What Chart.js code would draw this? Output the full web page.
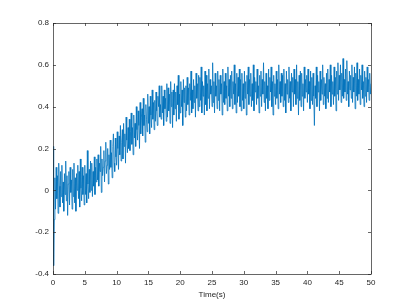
<!DOCTYPE html>
<html>
<head>
<meta charset="utf-8">
<script src="https://cdn.jsdelivr.net/npm/chart.js@4"></script>
<style>
  html, body { margin: 0; padding: 0; background: #fff; }
  #wrap { width: 410px; height: 308px; }
</style>
</head>
<body>
<div id="wrap"><canvas id="myChart" width="410" height="308"></canvas></div>
<script>
// signal sampled every 0.1 s, one row per second
const dt = 0.1;
const signal = [
  0.21, -0.36, -0.14, 0.06, -0.09, 0.11, -0.04, 0.07, -0.11, 0.13,
  0.02, -0.08, 0.09, -0.03, 0.12, -0.06, 0.04, -0.1, 0.08, -0.02,
  0.14, -0.05, 0.07, -0.12, 0.03, 0.09, -0.07, 0.11, -0.01, 0.05,
  -0.09, 0.1, -0.03, 0.13, -0.06, 0.06, -0.1, 0.08, 0.0, 0.12,
  -0.04, 0.09, -0.08, 0.15, 0.01, -0.05, 0.11, -0.02, 0.07, -0.07,
  0.12, -0.02, 0.08, -0.06, 0.19, 0.03, -0.04, 0.1, -0.01, 0.14,
  0.0, 0.13, -0.03, 0.09, 0.02, 0.16, -0.02, 0.11, 0.04, 0.15,
  0.05, 0.17, 0.02, 0.13, 0.09, 0.21, -0.01, 0.15, 0.07, 0.11,
  0.19, 0.04, 0.14, 0.23, 0.08, 0.12, 0.2, 0.03, 0.17, 0.1,
  0.24, 0.11, 0.18, 0.06, 0.21, 0.27, 0.13, 0.09, 0.25, 0.16,
  0.12, 0.28, 0.2, 0.1, 0.26, 0.17, 0.31, 0.14, 0.23, 0.29,
  0.15, 0.32, 0.21, 0.27, 0.13, 0.35, 0.24, 0.18, 0.3, 0.2,
  0.34, 0.19, 0.28, 0.37, 0.22, 0.3, 0.17, 0.36, 0.25, 0.32,
  0.21, 0.4, 0.29, 0.24, 0.38, 0.31, 0.2, 0.42, 0.27, 0.35,
  0.39, 0.26, 0.44, 0.31, 0.36, 0.23, 0.41, 0.34, 0.28, 0.46,
  0.32, 0.4, 0.27, 0.45, 0.36, 0.3, 0.48, 0.34, 0.42, 0.29,
  0.43, 0.33, 0.47, 0.38, 0.31, 0.45, 0.4, 0.5, 0.35, 0.41,
  0.34, 0.5, 0.37, 0.45, 0.31, 0.48, 0.39, 0.44, 0.33, 0.51,
  0.35, 0.49, 0.38, 0.46, 0.32, 0.52, 0.4, 0.47, 0.3, 0.48,
  0.36, 0.51, 0.39, 0.47, 0.33, 0.5, 0.41, 0.55, 0.34, 0.46,
  0.37, 0.52, 0.4, 0.48, 0.31, 0.53, 0.42, 0.49, 0.35, 0.5,
  0.38, 0.54, 0.41, 0.49, 0.36, 0.51, 0.43, 0.57, 0.37, 0.48,
  0.39, 0.53, 0.42, 0.5, 0.35, 0.56, 0.44, 0.51, 0.38, 0.55,
  0.4, 0.54, 0.43, 0.59, 0.37, 0.52, 0.45, 0.5, 0.36, 0.57,
  0.41, 0.55, 0.38, 0.51, 0.44, 0.58, 0.39, 0.53, 0.46, 0.5,
  0.4, 0.61, 0.42, 0.52, 0.37, 0.56, 0.45, 0.5, 0.39, 0.57,
  0.43, 0.53, 0.38, 0.55, 0.46, 0.51, 0.36, 0.58, 0.42, 0.52,
  0.41, 0.56, 0.44, 0.5, 0.38, 0.59, 0.45, 0.53, 0.4, 0.55,
  0.44, 0.57, 0.39, 0.52, 0.46, 0.6, 0.41, 0.51, 0.37, 0.56,
  0.42, 0.54, 0.45, 0.58, 0.4, 0.53, 0.38, 0.56, 0.43, 0.51,
  0.39, 0.57, 0.44, 0.52, 0.36, 0.55, 0.46, 0.59, 0.41, 0.53,
  0.45, 0.56, 0.4, 0.51, 0.43, 0.6, 0.38, 0.54, 0.47, 0.52,
  0.41, 0.58, 0.44, 0.5, 0.37, 0.55, 0.45, 0.57, 0.4, 0.53,
  0.46, 0.61, 0.42, 0.52, 0.38, 0.56, 0.44, 0.5, 0.39, 0.58,
  0.43, 0.54, 0.47, 0.59, 0.4, 0.52, 0.36, 0.55, 0.45, 0.51,
  0.41, 0.57, 0.44, 0.53, 0.39, 0.6, 0.46, 0.52, 0.42, 0.56,
  0.45, 0.55, 0.4, 0.58, 0.43, 0.51, 0.37, 0.57, 0.46, 0.53,
  0.42, 0.59, 0.44, 0.52, 0.38, 0.56, 0.47, 0.54, 0.4, 0.58,
  0.46, 0.53, 0.41, 0.6, 0.44, 0.52, 0.36, 0.55, 0.43, 0.57,
  0.4, 0.56, 0.45, 0.51, 0.38, 0.59, 0.44, 0.53, 0.47, 0.55,
  0.42, 0.58, 0.46, 0.52, 0.39, 0.57, 0.43, 0.54, 0.41, 0.56,
  0.45, 0.31, 0.5, 0.44, 0.59, 0.4, 0.55, 0.47, 0.52, 0.38,
  0.57, 0.43, 0.53, 0.46, 0.6, 0.41, 0.54, 0.45, 0.51, 0.39,
  0.56, 0.44, 0.58, 0.42, 0.53, 0.47, 0.6, 0.4, 0.55, 0.46,
  0.52, 0.41, 0.59, 0.45, 0.54, 0.38, 0.57, 0.46, 0.61, 0.43,
  0.55, 0.48, 0.6, 0.42, 0.56, 0.45, 0.63, 0.44, 0.53, 0.47,
  0.58, 0.43, 0.62, 0.46, 0.52, 0.4, 0.57, 0.48, 0.55, 0.44,
  0.6, 0.42, 0.54, 0.47, 0.59, 0.39, 0.56, 0.45, 0.61, 0.43,
  0.53, 0.46, 0.58, 0.41, 0.55, 0.48, 0.6, 0.44, 0.52, 0.4,
  0.57, 0.45, 0.54, 0.42, 0.59, 0.47, 0.53, 0.43, 0.56, 0.46,
  0.51
];

const xTicks = [0, 5, 10, 15, 20, 25, 30, 35, 40, 45, 50];
const yTicks = [-0.4, -0.2, 0, 0.2, 0.4, 0.6, 0.8];
const xLabel = 'Time(s)';

const points = signal.map((v, i) => ({ x: i * dt, y: v }));

const axisColor = '#262626';
const fontFamily = '"Liberation Sans", Arial, sans-serif';

// matlab style box with inward ticks on all four sides
const boxPlugin = {
  id: 'box',
  afterDraw(chart) {
    const { ctx, chartArea: a, scales } = chart;
    ctx.save();
    ctx.strokeStyle = axisColor;
    ctx.lineWidth = 0.7;
    ctx.strokeRect(Math.round(a.left) + 0.5, Math.round(a.top) + 0.5,
      Math.round(a.right - a.left), Math.round(a.bottom - a.top));
    ctx.beginPath();
    xTicks.forEach(t => {
      const px = Math.round(scales.x.getPixelForValue(t)) + 0.5;
      ctx.moveTo(px, a.bottom); ctx.lineTo(px, a.bottom - 3);
      ctx.moveTo(px, a.top); ctx.lineTo(px, a.top + 3);
    });
    yTicks.forEach(t => {
      const py = Math.round(scales.y.getPixelForValue(t)) + 0.5;
      ctx.moveTo(a.left, py); ctx.lineTo(a.left + 3, py);
      ctx.moveTo(a.right, py); ctx.lineTo(a.right - 3, py);
    });
    ctx.stroke();
    ctx.restore();
  }
};

const config = {
  type: 'line',
  data: {
    datasets: [{
      data: points,
      borderColor: '#0072BD',
      borderWidth: 0.8,
      pointRadius: 0,
      tension: 0,
      fill: false
    }]
  },
  options: {
    responsive: false,
    animation: false,
    events: [],
    layout: { padding: { left: 0, top: 23, right: 39, bottom: 0 } },
    plugins: { legend: { display: false }, tooltip: { enabled: false } },
    scales: {
      x: {
        type: 'linear',
        min: 0, max: 50,
        afterBuildTicks: s => { s.ticks = xTicks.map(v => ({ value: v })); },
        grid: { display: false, drawTicks: false },
        border: { display: false },
        ticks: { color: axisColor, font: { family: fontFamily, size: 8 }, padding: 4, maxRotation: 0 },
        title: { display: true, text: xLabel, color: axisColor, font: { family: fontFamily, size: 8 }, padding: { top: 0, bottom: 8 } },
        afterFit: s => { s.height = 34; }
      },
      y: {
        min: -0.4, max: 0.8,
        afterBuildTicks: s => { s.ticks = yTicks.map(v => ({ value: v })); },
        grid: { display: false, drawTicks: false },
        border: { display: false },
        ticks: {
          color: axisColor, font: { family: fontFamily, size: 8 }, padding: 4,
          callback: v => String(Number(v.toFixed(1)))
        },
        afterFit: s => { s.width = 53; }
      }
    }
  },
  plugins: [boxPlugin]
};

var myChart = new Chart(document.getElementById('myChart'), config);
</script>
</body>
</html>
